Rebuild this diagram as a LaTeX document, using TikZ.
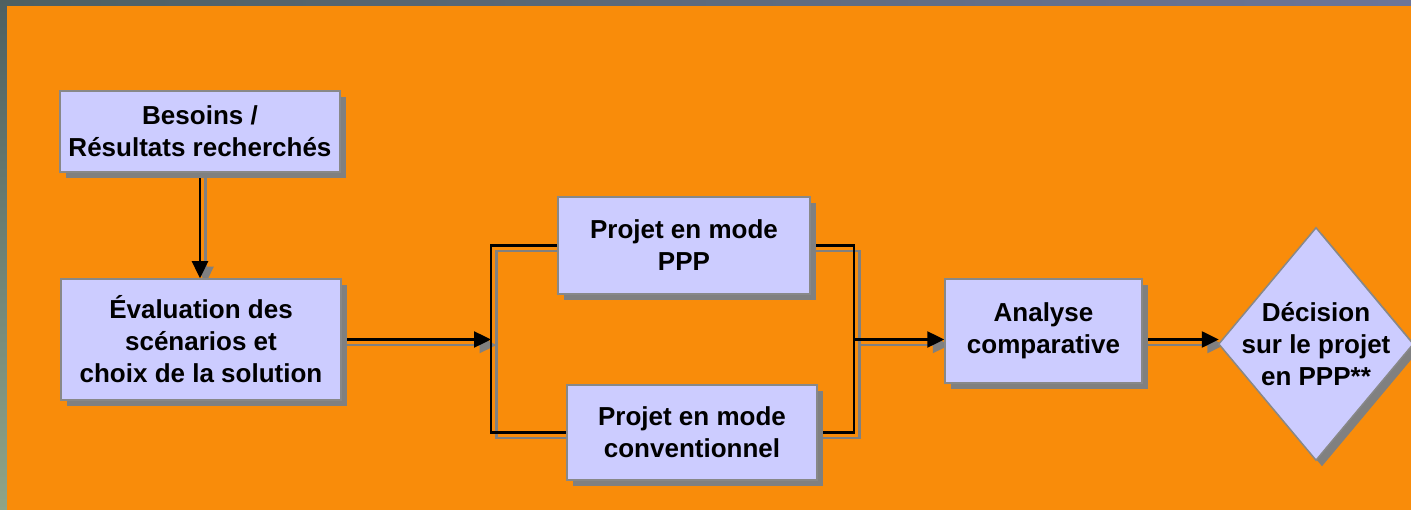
\documentclass[tikz,border=0pt]{standalone}
\usepackage{fontspec}
\setmainfont{Liberation Sans}
\usetikzlibrary{arrows.meta,shadows}
\definecolor{orangebg}{RGB}{249,140,10}
\definecolor{boxfill}{RGB}{204,204,255}
\definecolor{boxline}{RGB}{136,136,136}
\definecolor{shadowgray}{RGB}{128,128,128}
\definecolor{frameA}{RGB}{78,96,98}
\definecolor{frameB}{RGB}{108,117,153}
\definecolor{frameC}{RGB}{143,164,136}
\pgfdeclarelayer{bg}
\pgfdeclarelayer{conn}
\pgfsetlayers{bg,conn,main}
\tikzset{
  lbl/.style={font=\fontsize{26}{32}\selectfont\bfseries, align=center},
  box/.style={lbl, draw=boxline, line width=1.5pt, fill=boxfill, inner sep=0pt,
    drop shadow={shadow xshift=6pt, shadow yshift=-6pt, fill=shadowgray, opacity=1}},
  conn/.style={draw=black, line width=2.4pt,
    preaction={draw=shadowgray, line width=2.4pt, transform canvas={shift={(5.5pt,-5.5pt)}}}},
  arr/.style={conn, -{Triangle[length=17pt,width=16pt]}},
}
\begin{document}
\begin{tikzpicture}[x=1pt,y=1pt]
\useasboundingbox (0,0) rectangle (1411,-510);
\begin{pgfonlayer}{bg}
  \shade[left color=frameA, right color=frameB] (0,0) rectangle (1411,-7);
  \shade[top color=frameA, bottom color=frameC] (0,0) rectangle (7,-510);
  \fill[orangebg] (7,-6) rectangle (1411,-510);
\end{pgfonlayer}

\node[box, minimum width=280pt, minimum height=81pt] (b1) at (200,-131.5) {Besoins /\\Résultats recherchés};
\node[box, minimum width=280pt, minimum height=121pt] (b2) at (201,-339.5) {Évaluation des\\scénarios et\\choix de la solution};
\node[box, minimum width=252pt, minimum height=97pt] (ppp) at (684,-245.5) {Projet en mode\\PPP};
\node[box, minimum width=250pt, minimum height=95pt] (conv) at (692,-432.5) {Projet en mode\\conventionnel};
\node[box, minimum width=197pt, minimum height=104pt] (ana) at (1043.5,-331) {Analyse\\comparative};

\node[minimum width=194pt, minimum height=232pt, inner sep=0pt] (dec) at (1316,-344) {};
\fill[shadowgray] ([shift={(6pt,-6pt)}]dec.north) -- ([shift={(6pt,-6pt)}]dec.east)
  -- ([shift={(6pt,-6pt)}]dec.south) -- ([shift={(6pt,-6pt)}]dec.west) -- cycle;
\filldraw[fill=boxfill, draw=boxline, line width=1.5pt] (dec.north) -- (dec.east) -- (dec.south) -- (dec.west) -- cycle;
\node[lbl] (dectext) at (1316,-344) {Décision\\sur le projet\\en PPP**};

\coordinate (jl) at (491,-339.5);
\coordinate (jr) at (854,-339.5);
\begin{pgfonlayer}{conn}
  \draw[arr] (b1.south) -- (b1.south |- b2.north);
  \draw[arr] (b2.east) -- (jl);
  \draw[conn] (ppp.west) -| (jl) |- (conv.west);
  \draw[conn] (ppp.east) -| (jr) |- (conv.east);
  \draw[arr] (jr) -- (jr -| ana.west);
  \draw[arr] (ana.east |- jr) -- (dec.west |- jr);
\end{pgfonlayer}
\end{tikzpicture}
\end{document}
